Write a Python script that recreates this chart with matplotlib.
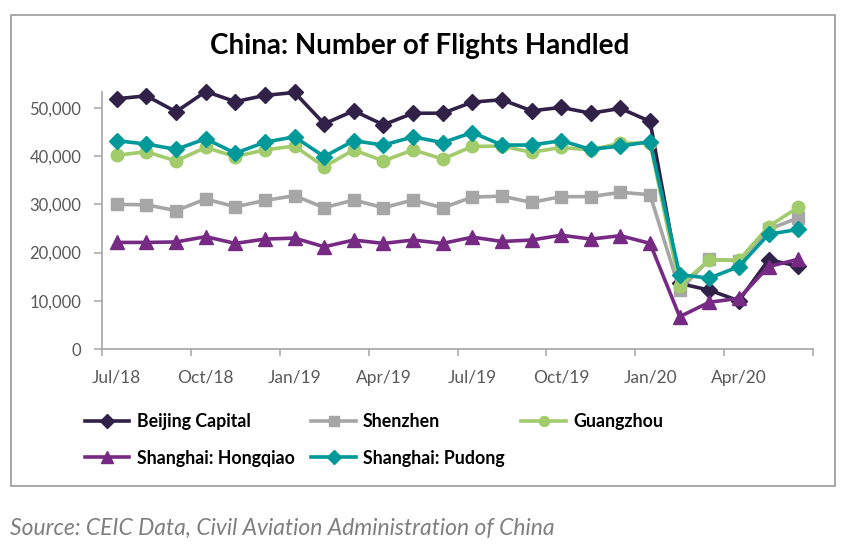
import matplotlib
matplotlib.use("Agg")
import matplotlib.pyplot as plt
from matplotlib.ticker import FuncFormatter, FixedLocator
from matplotlib.patches import Rectangle

plt.rcParams['font.family'] = ['Lato', 'DejaVu Sans']

months = ["Jul/18", "Aug/18", "Sep/18", "Oct/18", "Nov/18", "Dec/18",
          "Jan/19", "Feb/19", "Mar/19", "Apr/19", "May/19", "Jun/19",
          "Jul/19", "Aug/19", "Sep/19", "Oct/19", "Nov/19", "Dec/19",
          "Jan/20", "Feb/20", "Mar/20", "Apr/20", "May/20", "Jun/20"]

beijing = [51900, 52500, 49200, 53400, 51300, 52600, 53200, 46700, 49400,
           46500, 48900, 48900, 51200, 51700, 49400, 50100, 48900, 49900,
           47200, 13600, 12200, 10000, 18500, 17200]
shenzhen = [30000, 29900, 28700, 31100, 29500, 30800, 31800, 29300, 30900,
            29300, 30900, 29300, 31500, 31700, 30400, 31600, 31600, 32500,
            32000, 12200, 18600, 18300, 24800, 27200]
guangzhou = [40200, 40900, 39000, 41800, 39900, 41300, 42100, 37800, 41300,
             39000, 41300, 39400, 42000, 42100, 40800, 41800, 41300, 42700,
             42700, 13100, 18500, 18400, 25400, 29400]
hongqiao = [22100, 22100, 22200, 23300, 21900, 22800, 23000, 21200, 22600,
            21900, 22600, 21900, 23200, 22300, 22600, 23600, 22800, 23500,
            21900, 6700, 9700, 10500, 17100, 18600]
pudong = [43200, 42500, 41400, 43600, 40600, 42900, 44000, 39900, 43200,
          42300, 44000, 42800, 44900, 42300, 42300, 43200, 41400, 42100,
          43000, 15400, 14700, 17100, 23800, 24800]

series = [
    ("Beijing Capital", beijing, "#312148", "D", 8.5),
    ("Shenzhen", shenzhen, "#a6a6a6", "s", 8.5),
    ("Guangzhou", guangzhou, "#a2cb6b", "o", 9),
    ("Shanghai: Hongqiao", hongqiao, "#772a84", "^", 10),
    ("Shanghai: Pudong", pudong, "#009999", "D", 8.5),
]

W, H = 841, 554
fig = plt.figure(figsize=(W / 100, H / 100), dpi=100)
ax = fig.add_axes([102 / W, 1 - 349 / H, (813 - 102) / W, (349 - 92) / H])

x = list(range(len(months)))
handles = {}
for name, vals, col, mk, ms in series:
    (ln,) = ax.plot(x, vals, color=col, lw=2.6, marker=mk, ms=ms,
                    markeredgecolor=col, label=name, solid_joinstyle='round',
                    clip_on=False)
    handles[name] = ln

ax.set_xlim(-0.5, len(months) - 0.5)
ax.set_ylim(0, 53300)

for s in ["top", "right"]:
    ax.spines[s].set_visible(False)
for s in ["left", "bottom"]:
    ax.spines[s].set_color("#a6a6a6")
    ax.spines[s].set_linewidth(1.2)

ax.set_yticks([0, 10000, 20000, 30000, 40000, 50000])
ax.yaxis.set_major_formatter(FuncFormatter(lambda v, p: f"{int(v):,}"))
ax.tick_params(axis='y', direction='out', length=6, width=1.1, color="#a6a6a6",
               labelsize=12, labelcolor="#595959", pad=9)

ax.xaxis.set_major_locator(FixedLocator([i - 0.5 for i in range(0, len(months) + 1, 3)]))
ax.xaxis.set_major_formatter(FuncFormatter(lambda v, p: ""))
ax.xaxis.set_minor_locator(FixedLocator(list(range(0, len(months), 3))))
ax.xaxis.set_minor_formatter(FuncFormatter(lambda v, p: months[int(round(v))]))
ax.tick_params(axis='x', which='major', direction='out', length=5, width=1.1, color="#a6a6a6")
ax.tick_params(axis='x', which='minor', length=0, labelsize=12.5, labelcolor="#595959", pad=15)

fig.text(420 / W, 1 - 46 / H, "China: Number of Flights Handled", ha='center', va='center',
         fontsize=20, fontweight='bold', color='black')

order = ["Beijing Capital", "Shanghai: Hongqiao", "Shenzhen", "Shanghai: Pudong", "Guangzhou"]
leg = fig.legend([handles[n] for n in order], order, ncol=3, loc='upper left',
                 bbox_to_anchor=(85 / W, 1 - 413 / H), frameon=False,
                 prop={'weight': 'bold', 'size': 12.8}, handlelength=2.5,
                 handletextpad=0.4, columnspacing=0.95, labelspacing=1.1,
                 borderpad=0, borderaxespad=0, markerscale=0.8)

fig.patches.append(Rectangle((10.5 / W, 1 - 486 / H), (835 - 10.5) / W, (486 - 14.5) / H,
                             transform=fig.transFigure, fill=False,
                             edgecolor="#9a9a9a", linewidth=1.2))

fig.text(10 / W, 1 - 528 / H, "Source: CEIC Data, Civil Aviation Administration of China",
         ha='left', va='center', fontsize=16.5, style='italic', color="#7f7f7f")

fig.savefig("out.png", dpi=100, facecolor='white')
